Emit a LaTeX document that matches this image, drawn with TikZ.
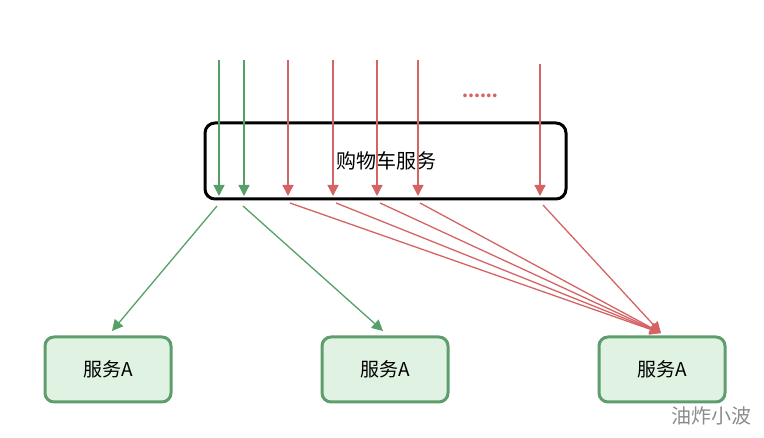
\documentclass[tikz,border=0pt]{standalone}
\usepackage{fontspec}
\setmainfont{Noto Sans CJK SC}
\usetikzlibrary{arrows.meta}
\definecolor{gline}{HTML}{55A068}
\definecolor{rline}{HTML}{D46464}
\definecolor{gfill}{HTML}{E0F3E3}
\definecolor{gborder}{HTML}{5E9E6C}
\tikzset{
  garrow/.style={draw=gline, line width=1.3pt, -{Triangle[width=11pt,length=11pt]}},
  rarrow/.style={draw=rline, line width=1.3pt, -{Triangle[width=11pt,length=11pt]}},
  svc/.style={draw=gborder, fill=gfill, line width=3pt, rounded corners=9pt, minimum width=126pt, minimum height=65pt, font=\fontsize{19}{21}\selectfont, inner sep=0pt},
  mainbox/.style={draw=black, line width=3pt, rounded corners=10pt, minimum width=361pt, minimum height=76pt, inner sep=0pt},
}
\begin{document}
\begin{tikzpicture}[x=1pt,y=-1pt]
\useasboundingbox (0,0) rectangle (764,438);
\node[mainbox] (cart) at (385.5,161) {};
\node[font=\fontsize{20}{22}\selectfont] (carttext) at (386,161) {购物车服务};
\node[svc] (s1) at (108,369.5) {服务A};
\node[svc] (s2) at (385,369.5) {服务A};
\node[svc] (s3) at (662,369.5) {服务A};
\node[text=rline, font=\fontsize{17}{17}\selectfont\bfseries] (dots) at (480,96) {......};
\node[text=black!45, font=\fontsize{20}{22}\selectfont] (wm) at (711,416) {油炸小波};
% vertical inputs
\foreach \n/\x/\y in {g1/219/60, g2/244/60, r1/288/60, r2/333/60, r3/377/60, r4/418/60, r5/540/64} {
  \coordinate (\n top) at (\x,\y);
  \coordinate (\n bot) at (\x,196);
}
\draw[garrow] (g1top) -- (g1bot);
\draw[garrow] (g2top) -- (g2bot);
\foreach \n in {r1,r2,r3,r4,r5} { \draw[rarrow] (\n top) -- (\n bot); }
% outgoing
\coordinate (go1) at (217,206);
\coordinate (go2) at (243,206);
\coordinate (gt1) at (112,331);
\coordinate (gt2) at (383,331);
\draw[garrow] (go1) -- (gt1);
\draw[garrow] (go2) -- (gt2);
\coordinate (rt) at (661,333);
\foreach \x/\y in {290/203, 336/203, 380/203, 420/203, 543/205} {
  \draw[rarrow] (\x,\y) -- (rt);
}
\end{tikzpicture}
\end{document}
